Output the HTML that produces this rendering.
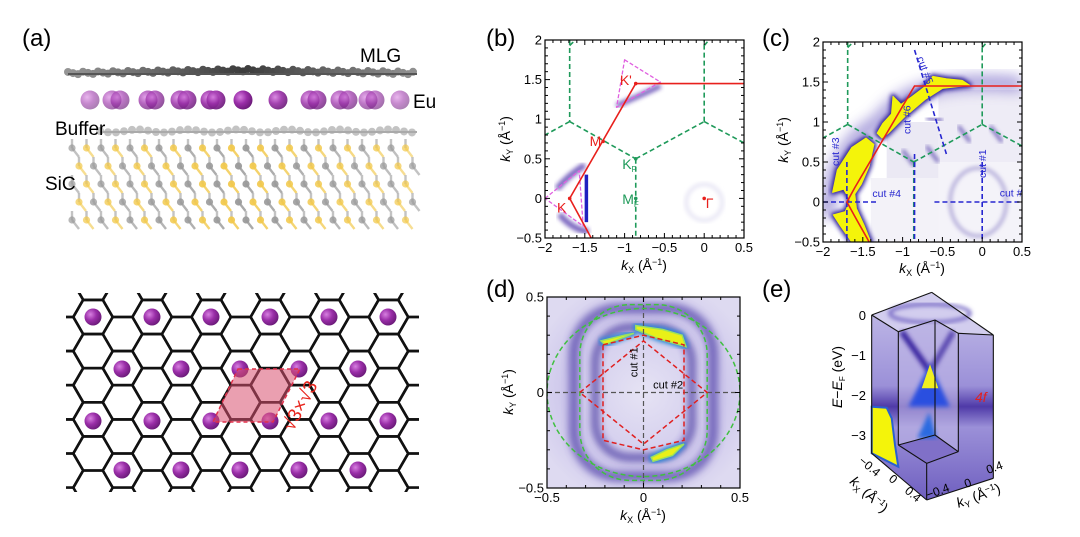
<!DOCTYPE html>
<html><head><meta charset="utf-8"><style>
html,body{margin:0;padding:0;background:#fff;overflow:hidden;width:1080px;height:537px;}
svg{display:block;font-family:"Liberation Sans",sans-serif;}
</style></head><body>
<svg id="fig" width="1080" height="537" viewBox="0 0 1080 537">
<defs>
<filter id="blur2"><feGaussianBlur stdDeviation="2"/></filter>
<filter id="blur4"><feGaussianBlur stdDeviation="4"/></filter>
<filter id="blur6"><feGaussianBlur stdDeviation="7"/></filter>
<radialGradient id="eu" cx="0.35" cy="0.35" r="0.7"><stop offset="0" stop-color="#d77fe0"/><stop offset="0.5" stop-color="#9a2ea8"/><stop offset="1" stop-color="#6a1a78"/></radialGradient>
<radialGradient id="dbg" cx="0.5" cy="0.5" r="0.6"><stop offset="0" stop-color="#e6e3f4"/><stop offset="0.7" stop-color="#cfc9ec"/><stop offset="1" stop-color="#dedaf1"/></radialGradient>
<linearGradient id="eface" x1="0" y1="0" x2="0" y2="1"><stop offset="0" stop-color="#c7c1ea"/><stop offset="0.45" stop-color="#9b90d8"/><stop offset="0.55" stop-color="#4f3aa8"/><stop offset="0.65" stop-color="#9b90d8"/><stop offset="1" stop-color="#6f5fc0"/></linearGradient>
<clipPath id="clipB"><rect x="545" y="40" width="199" height="198"/></clipPath>
<clipPath id="clipC"><rect x="823" y="42" width="199" height="200"/></clipPath>
<clipPath id="clipD"><rect x="547" y="297" width="193" height="191"/></clipPath>
<clipPath id="clipHC"><rect x="66" y="293" width="353" height="199"/></clipPath>
</defs>

<text x="22" y="46" font-size="24">(a)</text>
<text x="486" y="46" font-size="24">(b)</text>
<text x="762" y="46" font-size="24">(c)</text>
<text x="486" y="297" font-size="24">(d)</text>
<text x="762" y="297" font-size="24">(e)</text>

<g id="structure"></g>
<text x="360" y="62" font-size="19">MLG</text>
<text x="413" y="108" font-size="19">Eu</text>
<text x="55" y="135" font-size="19">Buffer</text>
<text x="45" y="190" font-size="19">SiC</text>

<g id="honeycomb" clip-path="url(#clipHC)"></g>
<polygon points="238,369 300,369 273,422 213,422" fill="#d9506f" fill-opacity="0.55" stroke="#e0304a" stroke-dasharray="4,3" stroke-width="1.5"/>
<text transform="translate(293,432) rotate(-62)" font-size="19" fill="#e8261e">√3×√3</text>

<g id="panelB"></g>
<g id="panelC"></g>
<g id="panelD"></g>
<g id="panelE"></g>
</svg>
<script>
const NS="http://www.w3.org/2000/svg";
function el(tag,attrs,parent){const e=document.createElementNS(NS,tag);for(const k in attrs)e.setAttribute(k,attrs[k]);if(parent)parent.appendChild(e);return e;}

// ---------------- DATA ----------------
const bGreenSegs=[[-1.69,2,-1.69,0.97],[-1.69,1.93,-1.62,2],[-1.69,0.97,-2,0.8],[-1.69,0.97,-0.86,0.5],[-0.86,0.5,-0.86,-0.5],[-0.86,0.5,0,0.97],[0,0.97,0,2],[0,1.93,0.06,2],[0,0.97,0.5,0.7]];
const bRedPath=[[0.5,1.45],[-0.86,1.45],[-1.69,0],[-1.42,-0.5]];
const bPinkTop=[[-1.0,1.75],[-0.55,1.47],[-1.1,1.15]];
const bPinkLow=[[-2.0,0],[-1.57,0.35],[-1.52,-0.35]];
const xTicksBC=[-2,-1.5,-1,-0.5,0,0.5];
const yTicksBC=[-0.5,0,0.5,1,1.5,2];
const cRedPath=[[0.5,1.45],[-0.85,1.45],[-1.6,0.18],[-1.7,0],[-1.6,-0.18],[-1.42,-0.5]];
const cYellowA=[[-1.88,0.12],[-1.82,0.4],[-1.64,0.68],[-1.46,0.8],[-1.36,0.72],[-1.42,0.45],[-1.52,0.22],[-1.6,0.1],[-1.58,-0.08],[-1.48,-0.3],[-1.4,-0.5],[-1.64,-0.5],[-1.78,-0.3],[-1.87,-0.16],[-1.72,-0.12],[-1.66,0.02],[-1.74,0.16]];
const cYellowB=[[-1.32,0.86],[-1.25,0.98],[-1.14,1.1],[-1.12,1.32],[-1.02,1.22],[-0.88,1.32],[-0.72,1.44],[-0.62,1.57],[-0.45,1.54],[-0.25,1.52],[-0.16,1.46],[-0.5,1.42],[-0.72,1.28],[-0.98,1.06],[-1.18,0.86],[-1.26,0.8]];
const cCuts=[[-2,0,-1.3,0],[-0.6,0,0.5,0],[-1.7,0.5,-1.7,-0.5],[-0.85,0.6,-0.85,-0.5],[0,0.5,0,-0.5],[-0.85,1.9,-0.45,0.6]];
const cCutLabels=[["cut #1",0.05,0.3,-90],["cut #2",0.22,0.07,0],["cut #3",-1.8,0.45,-90],["cut #4",-1.38,0.06,0],["cut #5",-0.82,1.8,70],["cut #6",-0.9,0.85,-90]];
const xTicksD=[-0.5,0,0.5];
const yTicksD=[-0.5,0,0.5];
const dRed=[[-0.21,0.25],[0,0.3],[0.21,0.25],[0.21,-0.25],[0,-0.3],[-0.21,-0.25],[-0.21,0.25]];
const dRedDiamond=[[-0.33,0],[0,0.27],[0.33,0],[0,-0.27],[-0.33,0]];
const eTicks=[0,-1,-2,-3];

// ---------------- helpers ----------------
function mk(x0,x1,y0,y1,xmin,xmax,ymin,ymax){return{X:v=>x0+(v-xmin)/(xmax-xmin)*(x1-x0),Y:v=>y1-(v-ymin)/(ymax-ymin)*(y1-y0),x0,x1,y0,y1,xmin,xmax,ymin,ymax};}
function pts(m,arr){return arr.map(p=>m.X(p[0]).toFixed(1)+","+m.Y(p[1]).toFixed(1)).join(" ");}
function axes(g,m,xt,yt,minor,name){
  el("rect",{x:m.x0,y:m.y0,width:m.x1-m.x0,height:m.y1-m.y0,fill:"none",stroke:"#000","stroke-width":1.2},g);
  const n=Math.round((m.xmax-m.xmin)/minor);
  for(let i=0;i<=n;i++){const v=m.xmin+i*minor;const x=m.X(v);const maj=xt.some(t=>Math.abs(t-v)<1e-6);const L=maj?5:3;
    el("line",{x1:x,y1:m.y1,x2:x,y2:m.y1-L,stroke:"#000"},g);el("line",{x1:x,y1:m.y0,x2:x,y2:m.y0+L,stroke:"#000"},g);}
  const ny=Math.round((m.ymax-m.ymin)/minor);
  for(let i=0;i<=ny;i++){const v=m.ymin+i*minor;const y=m.Y(v);const maj=yt.some(t=>Math.abs(t-v)<1e-6);const L=maj?5:3;
    el("line",{x1:m.x0,y1:y,x2:m.x0+L,y2:y,stroke:"#000"},g);el("line",{x1:m.x1,y1:y,x2:m.x1-L,y2:y,stroke:"#000"},g);}
  xt.forEach(v=>{const t=el("text",{x:m.X(v),y:m.y1+14,"font-size":13,"text-anchor":"middle"},g);t.textContent=(v<0?"−":"")+Math.abs(v);
    
    });
  yt.forEach(v=>{const t=el("text",{x:m.x0-3,y:m.Y(v)+4.5,"font-size":13,"text-anchor":"end"},g);t.textContent=(v<0?"−":"")+Math.abs(v);
    
    });
}
function axTitle(g,x,y,rot,sub,name){
  const t=el("text",{transform:`translate(${x},${y}) rotate(${rot})`,"font-size":14,"text-anchor":"middle"},g);
  t.innerHTML=`<tspan font-style="italic">k</tspan><tspan font-size="9" dy="3">${sub}</tspan><tspan dy="-3"> (Å</tspan><tspan font-size="9" dy="-5">−1</tspan><tspan dy="5">)</tspan>`;
  
  
}

// ---------------- (a) side view ----------------
(function(){
  const g=document.getElementById("structure");
  for(let r=0;r<5;r++){for(let c=0;c<24;c++){const x=72+c*14.5+(r%2)*7;const y=148+r*18;
    const fade=Math.abs(x-240)/200;const col=(c+r)%2?"#f2c94c":"#9a9a9a";
    el("line",{x1:x,y1:y,x2:x+7,y2:y+9,stroke:col,"stroke-width":2.4,opacity:0.85-fade*0.3},g);
    el("line",{x1:x,y1:y,x2:x,y2:y-9,stroke:"#aaa","stroke-width":2.4,opacity:0.7},g);
    el("circle",{cx:x,cy:y,r:3.6,fill:col,opacity:0.95-fade*0.3},g);}}
  for(let i=0;i<40;i++){const x=100+i*8;el("circle",{cx:x,cy:131+Math.sin(i)*1.5,r:4,fill:"#b8b8b8",opacity:0.85},g);}
  el("line",{x1:100,y1:132,x2:417,y2:132,stroke:"#aaa","stroke-width":2},g);
  for(let i=0;i<70;i++){const x=68+i*5;const d=Math.abs(x-245)/180;const c=Math.round(60+d*90);
    el("circle",{cx:x,cy:72-(1-d)*3+(i%3)*1.2,r:4,fill:`rgb(${c},${c},${c})`},g);}
  el("line",{x1:68,y1:74,x2:417,y2:74,stroke:"#555","stroke-width":2},g);
  [90,112,120,148,155,180,187,210,216,243,278,310,317,340,348,368,375,400].forEach(x=>{const d=Math.abs(x-243)/160;
    el("circle",{cx:x,cy:100,r:9.5,fill:"url(#eu)",opacity:1-d*0.45},g);});
})();

// ---------------- (a) honeycomb ----------------
(function(){
  const g=document.getElementById("honeycomb");
  const a=19.7,h=Math.sqrt(3)*a;const cx0=93,cy0=317;
  for(let i=-1;i<12;i++){for(let j=-1;j<6;j++){
    const cx=cx0+1.5*a*i,cy=cy0+h*j+((i%2+2)%2?h/2:0);
    if(cy>500||cx>440)continue;
    let p=[];for(let k=0;k<6;k++){const t=Math.PI/3*k;p.push((cx+a*Math.cos(t)).toFixed(1)+","+(cy+a*Math.sin(t)).toFixed(1));}
    el("polygon",{points:p.join(" "),fill:"none",stroke:"#111","stroke-width":2.6,"stroke-linejoin":"round"},g);
  }}
  const rows=[[317,93],[369,122],[421,93],[470,122]];
  rows.forEach(([y,x0])=>{for(let x=x0;x<430;x+=59){if(x<70||x>412)continue;
    el("circle",{cx:x,cy:y,r:13,fill:"#fff"},g);
    el("circle",{cx:x,cy:y,r:8.5,fill:"url(#eu)"},g);}});
})();

// ---------------- (b) ----------------
(function(){
  const g=document.getElementById("panelB");
  const m=mk(545,744,40,238,-2,0.5,-0.5,2);
  const f=el("g",{"clip-path":"url(#clipB)"},g);
  el("path",{d:`M${m.X(-1.1)},${m.Y(1.17)} Q${m.X(-0.8)},${m.Y(1.3)} ${m.X(-0.55)},${m.Y(1.42)}`,stroke:"#5a3fb0","stroke-width":5,fill:"none",filter:"url(#blur2)",opacity:0.8},f);
  el("line",{x1:m.X(-0.6),y1:m.Y(1.45),x2:m.X(-0.1),y2:m.Y(1.45),stroke:"#8a7fd0","stroke-width":6,filter:"url(#blur4)",opacity:0.6},f);
  el("path",{d:`M${m.X(-1.85)},${m.Y(0.12)} Q${m.X(-1.7)},${m.Y(0.3)} ${m.X(-1.5)},${m.Y(0.42)}`,stroke:"#5a3fb0","stroke-width":6,fill:"none",filter:"url(#blur2)",opacity:0.8},f);
  el("path",{d:`M${m.X(-1.82)},${m.Y(-0.2)} Q${m.X(-1.65)},${m.Y(-0.4)} ${m.X(-1.45)},${m.Y(-0.42)}`,stroke:"#5a3fb0","stroke-width":6,fill:"none",filter:"url(#blur2)",opacity:0.8},f);
  el("line",{x1:m.X(-1.48),y1:m.Y(0.3),x2:m.X(-1.48),y2:m.Y(-0.3),stroke:"#2020c0","stroke-width":3.5},f);
  el("circle",{cx:m.X(0),cy:m.Y(-0.05),r:18,fill:"none",stroke:"#e2e0f2","stroke-width":3,filter:"url(#blur2)"},f);
  bGreenSegs.forEach(s=>{const l=el("line",{x1:m.X(s[0]),y1:m.Y(s[1]),x2:m.X(s[2]),y2:m.Y(s[3]),stroke:"#1f9a5a","stroke-width":1.6,"stroke-dasharray":"5,3"},f);
    
    });
  [bPinkTop,bPinkLow].forEach(P=>{const p=el("polygon",{points:pts(m,P),fill:"none",stroke:"#e060e0","stroke-width":1.3,"stroke-dasharray":"4,2","stroke-linejoin":"round"},f);
    
    });
  const rp=el("polyline",{points:pts(m,bRedPath),fill:"none",stroke:"#e8201c","stroke-width":1.6},f);
  
  
  [[-0.86,1.45],[-1.27,0.72],[-1.69,0],[0,0]].forEach(p=>el("circle",{cx:m.X(p[0]),cy:m.Y(p[1]),r:1.8,fill:"#e8201c"},f));
  [[-0.86,0.5],[-0.86,0]].forEach(p=>el("circle",{cx:m.X(p[0]),cy:m.Y(p[1]),r:1.8,fill:"#1f9a5a"},f));
  const lab=(t,x,y,c,sub)=>{const e=el("text",{x:m.X(x),y:m.Y(y),"font-size":14,fill:c},g);e.innerHTML=t+(sub?`<tspan font-size="8" dy="3">${sub}</tspan>`:"");
    
    };
  lab("K'",-1.06,1.43,"#e8201c");lab("M",-1.44,0.66,"#e8201c");lab("K",-1.85,-0.18,"#e8201c");
  lab("K",-1.03,0.37,"#1f9a5a","F");lab("M",-1.03,-0.07,"#1f9a5a","F");lab("Γ",0.02,-0.12,"#e8201c");
  axes(g,m,xTicksBC,yTicksBC,0.1,"b");
  axTitle(g,510,139,-90,"Y","b-y-axis-title");
  axTitle(g,644,270,0,"X","b-x-axis-title");
})();

// ---------------- (c) ----------------
(function(){
  const g=document.getElementById("panelC");
  const m=mk(823,1022,42,242,-2,0.5,-0.5,2);
  const f=el("g",{"clip-path":"url(#clipC)"},g);
  el("rect",{x:m.X(-1.2),y:m.Y(1.0),width:m.X(-0.55)-m.X(-1.2),height:m.Y(0.3)-m.Y(1.0),fill:"#ebe9f4"},f);
  el("rect",{x:m.X(-0.55),y:m.Y(1.4),width:m.X(0.5)-m.X(-0.55),height:m.Y(0.5)-m.Y(1.4),fill:"#eeecf6"},f);
  el("rect",{x:m.X(-1.4),y:m.Y(0.3),width:m.X(-0.5)-m.X(-1.4),height:m.Y(-0.5)-m.Y(0.3),fill:"#f3f2f8"},f);
  el("rect",{x:m.X(-0.55),y:m.Y(0.5),width:m.X(0.5)-m.X(-0.55),height:m.Y(-0.5)-m.Y(0.5),fill:"#f4f3f9"},f);
  el("ellipse",{cx:m.X(-0.05),cy:m.Y(0),rx:28,ry:34,fill:"none",stroke:"#a8a0d4","stroke-width":3,filter:"url(#blur2)"},f);
  [[-0.3,0.95,-0.15,0.75],[0.1,0.95,0.25,0.75],[-0.7,0.7,-0.55,0.5],[-1.0,0.65,-0.85,0.45],[-0.7,1.05,-0.5,1.02]].forEach(s=>
    el("line",{x1:m.X(s[0]),y1:m.Y(s[1]),x2:m.X(s[2]),y2:m.Y(s[3]),stroke:"#6050b0","stroke-width":3,filter:"url(#blur2)"},f));
  el("path",{d:`M${m.X(-1.95)},${m.Y(-0.2)} Q${m.X(-1.9)},${m.Y(0.7)} ${m.X(-1.3)},${m.Y(1.0)} Q${m.X(-0.9)},${m.Y(1.6)} ${m.X(0.5)},${m.Y(1.47)}`,stroke:"#7a6cc8","stroke-width":14,fill:"none",filter:"url(#blur6)",opacity:0.7},f);
  [cYellowA,cYellowB].forEach(P=>{
    el("polygon",{points:pts(m,P),fill:"#2a1c9a",stroke:"#2a1c9a","stroke-width":5,"stroke-linejoin":"round",filter:"url(#blur2)"},f);
    const y=el("polygon",{points:pts(m,P),fill:"#f4f40a",stroke:"#f4f40a","stroke-width":1,"stroke-linejoin":"round"},f);
    
    });
  bGreenSegs.forEach(s=>{const l=el("line",{x1:m.X(s[0]),y1:m.Y(s[1]),x2:m.X(s[2]),y2:m.Y(s[3]),stroke:"#1f9a5a","stroke-width":1.6,"stroke-dasharray":"5,3"},f);
    
    });
  cCuts.forEach(s=>{const l=el("line",{x1:m.X(s[0]),y1:m.Y(s[1]),x2:m.X(s[2]),y2:m.Y(s[3]),stroke:"#2626d0","stroke-width":1.6,"stroke-dasharray":"5,3"},f);
    
    });
  const rp=el("polyline",{points:pts(m,cRedPath),fill:"none",stroke:"#e8201c","stroke-width":1.6},f);
  
  
  cCutLabels.forEach(c=>{const t=el("text",{transform:`translate(${m.X(c[1])},${m.Y(c[2])}) rotate(${c[3]})`,"font-size":10.5,fill:"#2626d0"},f);t.textContent=c[0];
    
    });
  axes(g,m,xTicksBC,yTicksBC,0.1,"c");
  axTitle(g,788,140,-90,"Y","c-y-axis-title");
  axTitle(g,922,273,0,"X","c-x-axis-title");
})();

// ---------------- (d) ----------------
(function(){
  const g=document.getElementById("panelD");
  const m=mk(547,740,297,488,-0.5,0.5,-0.5,0.5);
  const f=el("g",{"clip-path":"url(#clipD)"},g);
  el("rect",{x:547,y:297,width:193,height:191,fill:"url(#dbg)"},f);
  el("rect",{x:m.X(-0.36),y:m.Y(0.44),width:m.X(0.36)-m.X(-0.36),height:m.Y(-0.44)-m.Y(0.44),rx:45,fill:"none",stroke:"#5040a8","stroke-width":10,filter:"url(#blur4)",opacity:0.75},f);
  el("rect",{x:m.X(-0.25),y:m.Y(0.34),width:m.X(0.25)-m.X(-0.25),height:m.Y(-0.34)-m.Y(0.34),rx:35,fill:"none",stroke:"#3a2a9a","stroke-width":7,filter:"url(#blur4)",opacity:0.8},f);
  [[[-0.04,0.35],[0.1,0.33],[0.2,0.3],[0.22,0.24],[0.08,0.28],[-0.04,0.33]],[[0.05,-0.36],[0.15,-0.33],[0.21,-0.27],[0.12,-0.3],[0.04,-0.34]],[[-0.22,0.27],[-0.1,0.3],[-0.05,0.31],[-0.2,0.25]]].forEach(P=>{
    el("polygon",{points:pts(m,P),fill:"#1a3ad0",stroke:"#2a8ad8","stroke-width":5,"stroke-linejoin":"round",filter:"url(#blur2)"},f);
    el("polygon",{points:pts(m,P),fill:"#e8f018",stroke:"#9ae060","stroke-width":1.5},f);});
  el("line",{x1:m.X(0),y1:m.Y(0.5),x2:m.X(0),y2:m.Y(-0.5),stroke:"#555","stroke-width":1.2,"stroke-dasharray":"5,3"},f);
  el("line",{x1:m.X(-0.5),y1:m.Y(0),x2:m.X(0.5),y2:m.Y(0),stroke:"#555","stroke-width":1.2,"stroke-dasharray":"5,3"},f);
  el("ellipse",{cx:m.X(0),cy:m.Y(0),rx:m.X(0.5)-m.X(0),ry:m.Y(0)-m.Y(0.44),fill:"none",stroke:"#40c040","stroke-width":1.5,"stroke-dasharray":"5,3"},f);
  el("rect",{x:m.X(-0.33),y:m.Y(0.46),width:m.X(0.33)-m.X(-0.33),height:m.Y(-0.46)-m.Y(0.46),rx:50,fill:"none",stroke:"#40c040","stroke-width":1.5,"stroke-dasharray":"5,3"},f);
  [dRed,dRedDiamond].forEach(P=>{const p=el("polyline",{points:pts(m,P),fill:"none",stroke:"#e02020","stroke-width":1.5,"stroke-dasharray":"5,3"},f);
    
    });
  const t1=el("text",{transform:`translate(${m.X(-0.03)},${m.Y(0.08)}) rotate(-90)`,"font-size":11},f);t1.textContent="cut #1";
  
  
  const t2=el("text",{x:m.X(0.05),y:m.Y(0.02),"font-size":11},f);t2.textContent="cut #2";
  
  
  axes(g,m,xTicksD,yTicksD,0.1,"d");
  axTitle(g,513,392,-90,"Y","d-y-axis-title");
  axTitle(g,643,520,0,"X","d-x-axis-title");
})();

// ---------------- (e) ----------------
(function(){
  const g=document.getElementById("panelE");
  const Z=(zx,zy)=>[830+zx/3,285+zy/3];
  const P=a=>a.map(p=>Z(p[0],p[1]).map(v=>v.toFixed(1)).join(",")).join(" ");
  el("polygon",{points:P([[125,90],[305,22],[490,150],[490,580],[290,645],[125,505]]),fill:"url(#eface)",stroke:"none"},g);
  el("polygon",{points:P([[125,90],[305,22],[490,150],[385,145],[315,105],[205,140]]),fill:"#d2cdee"},g);
  el("ellipse",{cx:Z(300,85)[0],cy:Z(300,85)[1],rx:40,ry:9,fill:"none",stroke:"#6a5cc0","stroke-width":3,filter:"url(#blur2)"},g);
  el("polygon",{points:P([[205,140],[315,105],[385,145],[385,500],[290,535],[205,480]]),fill:"#bfb8e6",opacity:0.6},g);
  el("polygon",{points:P([[205,480],[315,450],[385,500],[290,535]]),fill:"#8070c8"},g);
  el("line",{x1:Z(215,140)[0],y1:Z(215,140)[1],x2:Z(300,260)[0],y2:Z(300,260)[1],stroke:"#3a28a0","stroke-width":6,filter:"url(#blur2)"},g);
  el("line",{x1:Z(370,140)[0],y1:Z(370,140)[1],x2:Z(300,260)[0],y2:Z(300,260)[1],stroke:"#5a48b0","stroke-width":6,filter:"url(#blur2)"},g);
  el("polygon",{points:P([[300,235],[235,365],[360,365]]),fill:"#2a50e0",filter:"url(#blur2)"},g);
  el("polygon",{points:P([[300,238],[275,310],[325,310]]),fill:"#f0f020"},g);
  el("polygon",{points:P([[298,380],[262,460],[320,460]]),fill:"#2a6ae0",filter:"url(#blur2)"},g);
  el("polygon",{points:P([[125,365],[170,368],[185,400],[195,480],[205,545],[125,505]]),fill:"#f4f40a",stroke:"#2a60d0","stroke-width":2},g);
  const lines=[[[125,90],[305,22]],[[305,22],[490,150]],[[125,90],[205,140]],[[205,140],[315,105]],[[315,105],[385,145]],[[385,145],[490,150]],
    [[205,140],[205,480]],[[315,105],[315,450]],[[385,145],[385,500]],[[490,150],[490,580]],[[125,90],[125,505]],
    [[205,480],[290,535]],[[290,535],[385,500]],[[205,480],[315,450]],[[315,450],[385,500]],[[290,535],[290,645]],[[125,505],[290,645]],[[290,645],[490,580]]];
  lines.forEach(l=>{const a=Z(...l[0]),b=Z(...l[1]);el("line",{x1:a[0],y1:a[1],x2:b[0],y2:b[1],stroke:"#111","stroke-width":1.1},g);});
  eTicks.forEach(v=>{const yy=315+(-v)*40;
    const t=el("text",{x:866,y:yy+5,"font-size":13,"text-anchor":"end"},g);t.textContent=(v<0?"−":"")+Math.abs(v);
    
    });
  const et=el("text",{transform:"translate(842,377) rotate(-90)","font-size":14,"text-anchor":"middle"},g);
  et.innerHTML='<tspan font-style="italic">E</tspan>−<tspan font-style="italic">E</tspan><tspan font-size="8" dy="3">F</tspan><tspan dy="-3"> (eV)</tspan>';
  
  
  const f4=el("text",{x:975,y:402,"font-size":14,fill:"#e02020","font-style":"italic"},g);f4.textContent="4f";
  
  
  [["−0.4",858,462,40],["0",888,480,40],["0.4",904,492,40],["−0.4",928,499,-20],["0",966,488,-20],["0.4",988,474,-20]].forEach(a=>{
    const t=el("text",{transform:`translate(${a[1]},${a[2]}) rotate(${a[3]})`,"font-size":12},g);t.textContent=a[0];
    
    });
  axTitle(g,866,498,42,"X","e-kx-axis-title");
  axTitle(g,980,500,-20,"Y","e-ky-axis-title");
})();
</script>
</body></html>
